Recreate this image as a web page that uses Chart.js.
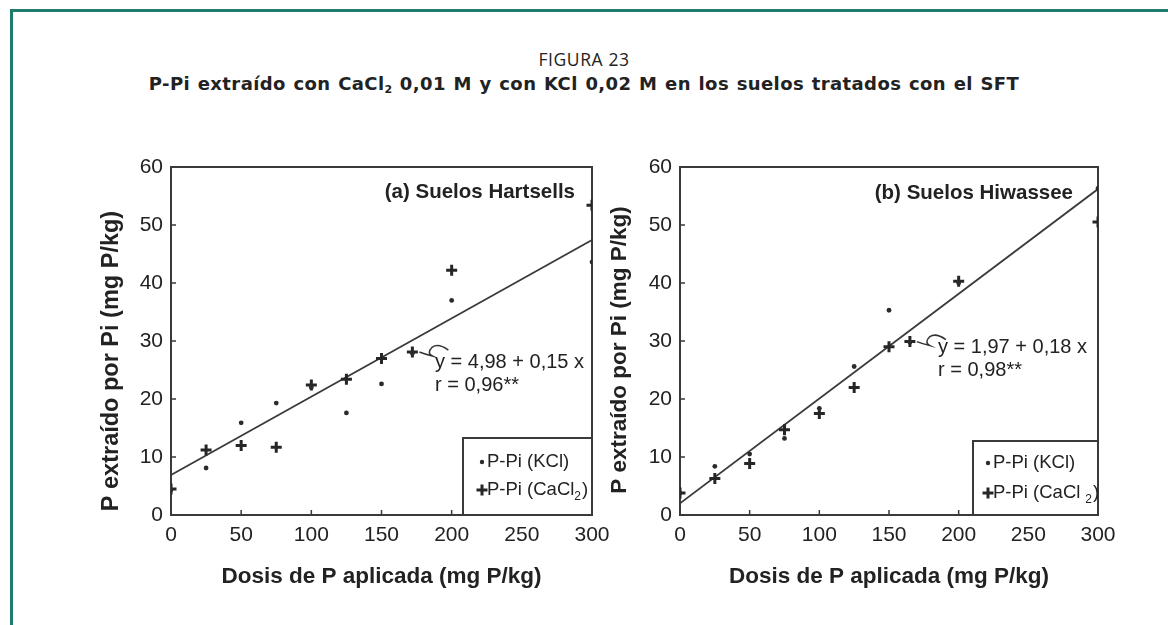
<!DOCTYPE html>
<html><head><meta charset="utf-8">
<script src="https://cdn.jsdelivr.net/npm/chart.js@4.4.1/dist/chart.umd.min.js"></script>
<style>
html,body{margin:0;padding:0;background:#fff;}
body{width:1168px;height:625px;position:relative;overflow:hidden;font-family:"Open Sans",sans-serif;}
#frameTop{position:absolute;left:10px;top:9px;width:1158px;height:3px;background:#1d7b70;}
#frameLeft{position:absolute;left:10px;top:9px;width:3px;height:616px;background:#1d7b70;}
#fig{position:absolute;top:48px;left:0;width:1168px;text-align:center;font-size:17.5px;letter-spacing:0.6px;color:#222;line-height:22px;}
#sub{position:absolute;top:73px;left:0;width:1168px;text-align:center;font-family:"DejaVu Sans",sans-serif;font-size:18px;font-weight:bold;letter-spacing:0.4px;word-spacing:1px;color:#222;line-height:22px;}
#sub sub{font-size:11px;vertical-align:-3px;line-height:0;letter-spacing:0;}
canvas{position:absolute;top:150px;}
</style>
</head><body>
<div id="frameTop"></div><div id="frameLeft"></div>
<div id="fig">FIGURA 23</div>
<div id="sub">P-Pi extraído con CaCl<sub>2</sub> 0,01 M y con KCl 0,02 M en los suelos tratados con el SFT</div>
<canvas id="cA" width="530" height="460" style="left:80px"></canvas>
<canvas id="cB" width="530" height="460" style="left:590px"></canvas>
<script>
// ---- data ----
const doseTicks = [0, 50, 100, 150, 200, 250, 300];
const yTicks = [0, 10, 20, 30, 40, 50, 60];
const xTitle = 'Dosis de P aplicada (mg P/kg)';
const yTitle = 'P extraído por Pi (mg P/kg)';
const legendKCl = 'P-Pi (KCl)';
const legendCa = 'P-Pi (CaCl';

// Panel (a) Suelos Hartsells
const dosesA = [0, 25, 50, 75, 100, 125, 150, 172, 200, 300];
const kclA   = [4.3, 8.1, 15.9, 19.3, 22.0, 17.6, 22.6, 27.9, 37.0, 43.6];
const caclA  = [4.5, 11.2, 12.0, 11.7, 22.4, 23.4, 27.0, 28.1, 42.2, 53.4];
const fitDose = [0, 300];
const fitA   = [6.9, 47.4];

// Panel (b) Suelos Hiwassee
const dosesB = [0, 25, 50, 75, 100, 125, 150, 165, 200, 300];
const kclB   = [3.8, 8.4, 10.5, 13.2, 18.4, 25.6, 35.3, 29.8, 40.0, 56.3];
const caclB  = [3.8, 6.3, 8.9, 14.7, 17.5, 22.0, 29.0, 29.9, 40.3, 50.5];
const fitB   = [2.0, 56.2];

const F = '"Liberation Sans", Arial, sans-serif';
const H = Chart.helpers;

function deco(P) {
  return {
    id: 'deco',
    beforeDatasetsDraw(chart) {
      const {ctx, chartArea: a, scales: {x, y}} = chart;
      ctx.save();
      ctx.strokeStyle = '#3a3a3a'; ctx.lineWidth = 2;
      ctx.strokeRect(a.left, a.top, a.right - a.left, a.bottom - a.top);
      ctx.lineWidth = 1.5;
      ctx.beginPath();
      doseTicks.forEach(v => { const px = x.getPixelForValue(v); ctx.moveTo(px, a.bottom); ctx.lineTo(px, a.bottom - 5); });
      yTicks.forEach(v => { const py = y.getPixelForValue(v); ctx.moveTo(a.left, py); ctx.lineTo(a.left + 5, py); });
      ctx.stroke();
      ctx.restore();
    },
    afterDatasetsDraw(chart) {
      const {ctx, chartArea: a, scales: {x, y}} = chart;
      ctx.save();
      ctx.fillStyle = '#222';
      // y title
      ctx.save();
      ctx.translate(P.yTitleX, P.yTitleY);
      ctx.rotate(-Math.PI / 2);
      ctx.font = 'bold ' + P.yTitleSize + 'px ' + F;
      ctx.textAlign = 'center'; ctx.textBaseline = 'middle';
      ctx.fillText(yTitle, 0, 0);
      ctx.restore();
      // panel label
      ctx.font = 'bold 20.5px ' + F;
      ctx.textAlign = 'right'; ctx.textBaseline = 'middle';
      ctx.fillText(P.label, P.labelX, P.labelY);
      // equation
      ctx.font = '20px ' + F;
      ctx.textAlign = 'left';
      ctx.fillText(P.eq, P.eqX, P.eqY);
      ctx.fillText(P.r, P.eqX, P.eqY + 23);
      // squiggle connector to labelled point
      const px = x.getPixelForValue(P.anchor[0]), py = y.getPixelForValue(P.anchor[1]);
      ctx.strokeStyle = '#333'; ctx.lineWidth = 1.5;
      ctx.beginPath();
      ctx.moveTo(px + 36, py - 2);
      ctx.quadraticCurveTo(px + 26, py - 9, px + 20, py - 5);
      ctx.quadraticCurveTo(px + 14, py + 1, px + 20, py + 4);
      ctx.quadraticCurveTo(px + 12, py + 2, px + 7, py);
      ctx.stroke();
      // legend box
      const L = P.legend;
      ctx.fillStyle = '#fff';
      ctx.fillRect(L.left, L.top, a.right - L.left, a.bottom - L.top);
      ctx.strokeStyle = '#3a3a3a'; ctx.lineWidth = 2;
      ctx.strokeRect(L.left, L.top, a.right - L.left, a.bottom - L.top);
      ctx.fillStyle = '#2b2b2b'; ctx.beginPath(); ctx.arc(L.mx, L.y1, 2.2, 0, Math.PI * 2); ctx.fill();
      ctx.strokeStyle = '#262626'; ctx.lineWidth = 3;
      H.drawPoint(ctx, {pointStyle: 'cross', radius: 5.5, borderWidth: 3}, L.mx, L.y2);
      ctx.fillStyle = '#222';
      ctx.font = '18.5px ' + F; ctx.textAlign = 'left'; ctx.textBaseline = 'middle';
      ctx.fillText(legendKCl, L.tx, L.y1);
      ctx.fillText(legendCa, L.tx, L.y2);
      let w = ctx.measureText(legendCa).width;
      ctx.font = '12px ' + F;
      ctx.fillText('2', L.tx + w + L.subGap, L.y2 + 7);
      const w2 = ctx.measureText('2').width;
      ctx.font = '18.5px ' + F;
      ctx.fillText(')', L.tx + w + L.subGap + w2 + 1, L.y2);
      ctx.restore();
    }
  };
}

function buildChart(id, P) {
  const pts = (xs, ys) => xs.map((v, i) => ({x: v, y: ys[i]}));
  return new Chart(document.getElementById(id), {
    type: 'scatter',
    data: {datasets: [
      {label: 'P-Pi (KCl)', data: pts(P.doses, P.kcl), pointStyle: 'circle', pointRadius: 2.4, pointHoverRadius: 2.4,
       backgroundColor: '#2b2b2b', borderColor: '#2b2b2b', borderWidth: 0},
      {label: 'P-Pi (CaCl2)', data: pts(P.doses, P.cacl), pointStyle: 'cross', pointRadius: 5.5, pointHoverRadius: 5.5,
       borderColor: '#262626', backgroundColor: '#262626', borderWidth: 3},
      {type: 'line', label: 'fit', data: pts(fitDose, P.fit), borderColor: '#3a3a3a', borderWidth: 1.8,
       pointRadius: 0, fill: false, tension: 0}
    ]},
    options: {
      responsive: false, animation: false, devicePixelRatio: 1,
      layout: {padding: {top: 17, right: P.padRight, bottom: 0, left: 0}},
      plugins: {legend: {display: false}, tooltip: {enabled: false}},
      scales: {
        x: {type: 'linear', min: 0, max: 300, position: 'bottom',
            afterBuildTicks: s => { s.ticks = doseTicks.map(v => ({value: v})); },
            afterFit: s => { s.height = 95; s.paddingLeft = 0; s.paddingRight = 0; },
            grid: {display: false, drawTicks: false}, border: {display: false},
            ticks: {font: {family: F, size: 21}, color: '#222', padding: 8, maxRotation: 0, autoSkip: false},
            title: {display: true, text: xTitle, font: {family: F, size: 22.5, weight: 'bold'}, color: '#222',
                    padding: {top: 0, bottom: 19.5}}},
        y: {type: 'linear', min: 0, max: 60, position: 'left',
            afterBuildTicks: s => { s.ticks = yTicks.map(v => ({value: v})); },
            afterFit: s => { s.width = P.yWidth; s.paddingTop = 0; s.paddingBottom = 0; },
            grid: {display: false, drawTicks: false}, border: {display: false},
            ticks: {font: {family: F, size: 21}, color: '#222', padding: 8, autoSkip: false}}
      }
    },
    plugins: [deco(P)]
  });
}

buildChart('cA', {
  doses: dosesA, kcl: kclA, cacl: caclA, fit: fitA,
  padRight: 18, yWidth: 91,
  yTitleX: 32, yTitleY: 211, yTitleSize: 23.5,
  label: '(a) Suelos Hartsells', labelX: 495, labelY: 42,
  eq: 'y = 4,98 + 0,15 x', r: 'r = 0,96**', eqX: 355, eqY: 212,
  anchor: [172, 28.1],
  legend: {left: 383, top: 288, mx: 402, tx: 407, y1: 312, y2: 340, subGap: 0}
});
buildChart('cB', {
  doses: dosesB, kcl: kclB, cacl: caclB, fit: fitB,
  padRight: 22, yWidth: 90,
  yTitleX: 30, yTitleY: 200, yTitleSize: 22.5,
  label: '(b) Suelos Hiwassee', labelX: 483, labelY: 43,
  eq: 'y = 1,97 + 0,18 x', r: 'r = 0,98**', eqX: 348, eqY: 197,
  anchor: [165, 29.9],
  legend: {left: 383, top: 291, mx: 398, tx: 403, y1: 313, y2: 343, subGap: 5}
});
</script>
</body></html>
